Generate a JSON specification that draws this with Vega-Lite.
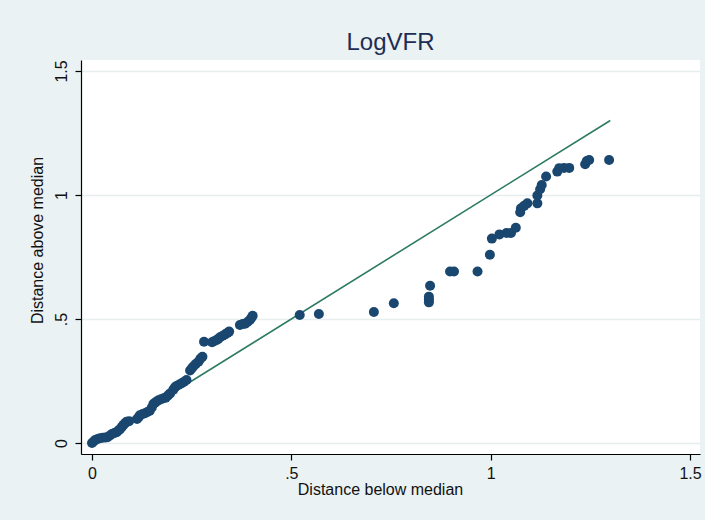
{
  "$schema": "https://vega.github.io/schema/vega-lite/v6.json",
  "autosize": {"type": "none"},
  "width": 619,
  "height": 394,
  "padding": {"left": 81, "top": 60, "right": 5, "bottom": 66},
  "background": "#EAF2F3",
  "config": {
    "view": {"fill": "white", "stroke": null},
    "font": "Liberation Sans",
    "axis": {
      "domainColor": "black", "domainWidth": 1.2, "tickColor": "black", "tickWidth": 1.2, "tickSize": 6,
      "labelFont": "Liberation Sans", "labelFontSize": 16, "labelColor": "#111",
      "titleFont": "Liberation Sans", "titleFontSize": 16, "titleFontWeight": "normal", "titleColor": "#111"
    }
  },
  "title": {"text": "LogVFR", "fontSize": 24, "fontWeight": "normal", "color": "#1E2D53", "font": "Liberation Sans", "offset": 5},
  "datasets": {
    "pts": [
      {"below": 0, "above": 0}, {"below": 0.004, "above": 0.006}, {"below": 0.008, "above": 0.012},
      {"below": 0.014, "above": 0.016}, {"below": 0.02, "above": 0.019}, {"below": 0.027, "above": 0.021},
      {"below": 0.034, "above": 0.022}, {"below": 0.039, "above": 0.023}, {"below": 0.045, "above": 0.03},
      {"below": 0.05, "above": 0.036}, {"below": 0.056, "above": 0.04}, {"below": 0.062, "above": 0.043},
      {"below": 0.066, "above": 0.05}, {"below": 0.07, "above": 0.055}, {"below": 0.075, "above": 0.065},
      {"below": 0.079, "above": 0.073}, {"below": 0.083, "above": 0.08}, {"below": 0.087, "above": 0.086},
      {"below": 0.093, "above": 0.088}, {"below": 0.113, "above": 0.097}, {"below": 0.117, "above": 0.104},
      {"below": 0.12, "above": 0.112}, {"below": 0.127, "above": 0.117}, {"below": 0.133, "above": 0.12},
      {"below": 0.139, "above": 0.125}, {"below": 0.145, "above": 0.13}, {"below": 0.15, "above": 0.143},
      {"below": 0.154, "above": 0.157}, {"below": 0.158, "above": 0.162}, {"below": 0.162, "above": 0.167},
      {"below": 0.167, "above": 0.172}, {"below": 0.173, "above": 0.176}, {"below": 0.18, "above": 0.18},
      {"below": 0.185, "above": 0.183}, {"below": 0.191, "above": 0.192}, {"below": 0.196, "above": 0.2},
      {"below": 0.204, "above": 0.215}, {"below": 0.208, "above": 0.225}, {"below": 0.212, "above": 0.23},
      {"below": 0.219, "above": 0.236}, {"below": 0.225, "above": 0.241}, {"below": 0.231, "above": 0.247},
      {"below": 0.237, "above": 0.254}, {"below": 0.246, "above": 0.292}, {"below": 0.25, "above": 0.3},
      {"below": 0.254, "above": 0.308}, {"below": 0.26, "above": 0.318}, {"below": 0.267, "above": 0.328},
      {"below": 0.272, "above": 0.34}, {"below": 0.277, "above": 0.348}, {"below": 0.281, "above": 0.408},
      {"below": 0.301, "above": 0.406}, {"below": 0.306, "above": 0.41}, {"below": 0.313, "above": 0.415},
      {"below": 0.317, "above": 0.42}, {"below": 0.321, "above": 0.426}, {"below": 0.328, "above": 0.432},
      {"below": 0.334, "above": 0.438}, {"below": 0.34, "above": 0.444}, {"below": 0.344, "above": 0.449},
      {"below": 0.371, "above": 0.476}, {"below": 0.378, "above": 0.48}, {"below": 0.384, "above": 0.481},
      {"below": 0.39, "above": 0.488}, {"below": 0.396, "above": 0.496}, {"below": 0.4, "above": 0.505},
      {"below": 0.403, "above": 0.513}, {"below": 0.521, "above": 0.516}, {"below": 0.569, "above": 0.52},
      {"below": 0.707, "above": 0.528}, {"below": 0.757, "above": 0.563}, {"below": 0.845, "above": 0.567},
      {"below": 0.845, "above": 0.578}, {"below": 0.845, "above": 0.59}, {"below": 0.848, "above": 0.634},
      {"below": 0.898, "above": 0.691}, {"below": 0.908, "above": 0.691}, {"below": 0.967, "above": 0.691},
      {"below": 0.998, "above": 0.759}, {"below": 1.003, "above": 0.824}, {"below": 1.022, "above": 0.841},
      {"below": 1.04, "above": 0.847}, {"below": 1.051, "above": 0.847}, {"below": 1.063, "above": 0.868},
      {"below": 1.074, "above": 0.93}, {"below": 1.076, "above": 0.946}, {"below": 1.084, "above": 0.956},
      {"below": 1.092, "above": 0.966}, {"below": 1.117, "above": 0.966}, {"below": 1.117, "above": 0.998},
      {"below": 1.124, "above": 1.023}, {"below": 1.128, "above": 1.04}, {"below": 1.139, "above": 1.074},
      {"below": 1.167, "above": 1.094}, {"below": 1.172, "above": 1.108}, {"below": 1.184, "above": 1.109},
      {"below": 1.197, "above": 1.109}, {"below": 1.237, "above": 1.124}, {"below": 1.241, "above": 1.137},
      {"below": 1.247, "above": 1.141}, {"below": 1.297, "above": 1.141}
    ],
    "ref": [
      {"below": 0, "above": 0},
      {"below": 1.3, "above": 1.3}
    ]
  },
  "layer": [
    {
      "data": {"name": "ref"},
      "mark": {"type": "line", "color": "#2E7B63", "strokeWidth": 1.6},
      "encoding": {
        "x": {"field": "below", "type": "quantitative"},
        "y": {"field": "above", "type": "quantitative"}
      }
    },
    {
      "data": {"name": "pts"},
      "mark": {"type": "point", "filled": true, "shape": "circle", "size": 100, "color": "#1A476F", "opacity": 1},
      "encoding": {
        "x": {
          "field": "below", "type": "quantitative",
          "scale": {"domain": [-0.0276, 1.525], "nice": false, "zero": false},
          "axis": {"values": [0, 0.5, 1, 1.5], "grid": false, "title": "Distance below median",
                   "labelExpr": "datum.value == 0.5 ? '.5' : toString(datum.value)", "labelPadding": 5,
                   "titlePadding": 0, "titleX": 299}
        },
        "y": {
          "field": "above", "type": "quantitative",
          "scale": {"domain": [-0.0444, 1.544], "nice": false, "zero": false},
          "axis": {"values": [0, 0.5, 1, 1.5], "grid": true, "gridColor": "#E6EEF0", "gridWidth": 1.5,
                   "title": "Distance above median",
                   "labelExpr": "datum.value == 0.5 ? '.5' : toString(datum.value)",
                   "labelAngle": -90, "labelAlign": "center", "labelBaseline": "bottom", "labelPadding": 6,
                   "titlePadding": 8, "titleY": 180}
        }
      }
    }
  ]
}
